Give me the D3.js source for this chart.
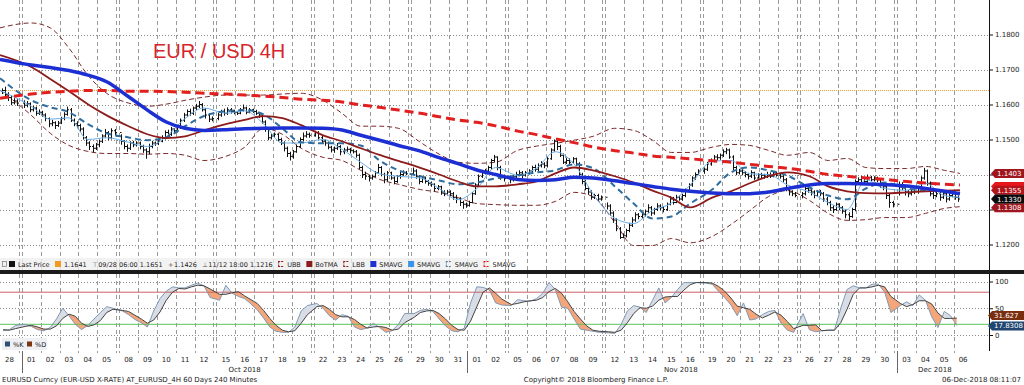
<!DOCTYPE html>
<html>
<head>
<meta charset="utf-8">
<script src="https://cdn.jsdelivr.net/npm/d3@7"></script>
<style>
  body { margin: 0; background: #fff; }
  svg text { font-family: "DejaVu Sans", sans-serif; }
</style>
</head>
<body>
<svg id="chart" width="1024" height="385"></svg>
<script>
(function (d3) {
    "use strict";

    /***** Data *****/

    // trading days on the axis
    const dayDates = [
        "2018-09-28",
        "2018-10-01","2018-10-02","2018-10-03","2018-10-04","2018-10-05",
        "2018-10-08","2018-10-09","2018-10-10","2018-10-11","2018-10-12",
        "2018-10-15","2018-10-16","2018-10-17","2018-10-18","2018-10-19",
        "2018-10-22","2018-10-23","2018-10-24","2018-10-25","2018-10-26",
        "2018-10-29","2018-10-30","2018-10-31","2018-11-01","2018-11-02",
        "2018-11-05","2018-11-06","2018-11-07","2018-11-08","2018-11-09",
        "2018-11-12","2018-11-13","2018-11-14","2018-11-15","2018-11-16",
        "2018-11-19","2018-11-20","2018-11-21","2018-11-22","2018-11-23",
        "2018-11-26","2018-11-27","2018-11-28","2018-11-29","2018-11-30",
        "2018-12-03","2018-12-04","2018-12-05","2018-12-06"
    ];

    // 4H bars, six per day
    const barHigh = [
        1.1646,1.1651,1.1635,1.1626,1.1618,1.1615,
        1.1612,1.1610,1.1606,1.1596,1.1594,1.1586,
        1.1582,1.1575,1.1563,1.1556,1.1552,1.1553,
        1.1565,1.1578,1.1594,1.1590,1.1560,1.1552,
        1.1545,1.1535,1.1510,1.1495,1.1486,1.1490,
        1.1500,1.1515,1.1530,1.1524,1.1532,1.1530,
        1.1515,1.1498,1.1486,1.1495,1.1496,1.1495,
        1.1494,1.1485,1.1475,1.1488,1.1496,1.1494,
        1.1500,1.1512,1.1526,1.1528,1.1536,1.1533,
        1.1542,1.1560,1.1576,1.1586,1.1588,1.1594,
        1.1602,1.1610,1.1604,1.1590,1.1575,1.1566,
        1.1576,1.1585,1.1588,1.1592,1.1590,1.1585,
        1.1582,1.1590,1.1600,1.1594,1.1590,1.1588,
        1.1585,1.1578,1.1574,1.1555,1.1535,1.1516,
        1.1520,1.1518,1.1505,1.1495,1.1480,1.1465,
        1.1470,1.1486,1.1506,1.1520,1.1524,1.1520,
        1.1525,1.1524,1.1510,1.1500,1.1494,1.1482,
        1.1480,1.1490,1.1484,1.1476,1.1480,1.1476,
        1.1472,1.1470,1.1460,1.1425,1.1408,1.1400,
        1.1400,1.1410,1.1430,1.1424,1.1405,1.1410,
        1.1408,1.1395,1.1398,1.1410,1.1412,1.1410,
        1.1420,1.1415,1.1398,1.1396,1.1394,1.1384,
        1.1380,1.1375,1.1370,1.1368,1.1355,1.1356,
        1.1355,1.1350,1.1342,1.1335,1.1325,1.1320,
        1.1325,1.1350,1.1375,1.1400,1.1410,1.1416,
        1.1425,1.1445,1.1456,1.1452,1.1425,1.1400,
        1.1392,1.1400,1.1408,1.1412,1.1410,1.1410,
        1.1415,1.1425,1.1428,1.1432,1.1438,1.1435,
        1.1450,1.1475,1.1500,1.1498,1.1485,1.1460,
        1.1448,1.1446,1.1450,1.1448,1.1435,1.1405,
        1.1385,1.1365,1.1355,1.1345,1.1345,1.1340,
        1.1320,1.1315,1.1295,1.1275,1.1250,1.1232,
        1.1245,1.1262,1.1278,1.1292,1.1290,1.1290,
        1.1300,1.1315,1.1310,1.1305,1.1318,1.1315,
        1.1310,1.1320,1.1338,1.1336,1.1342,1.1340,
        1.1345,1.1360,1.1375,1.1395,1.1406,1.1415,
        1.1420,1.1436,1.1446,1.1456,1.1458,1.1460,
        1.1472,1.1476,1.1474,1.1455,1.1425,1.1416,
        1.1416,1.1410,1.1405,1.1412,1.1408,1.1404,
        1.1405,1.1402,1.1408,1.1406,1.1410,1.1408,
        1.1402,1.1398,1.1390,1.1365,1.1355,1.1350,
        1.1350,1.1372,1.1368,1.1362,1.1355,1.1356,
        1.1356,1.1350,1.1336,1.1325,1.1312,1.1320,
        1.1318,1.1310,1.1300,1.1292,1.1305,1.1386,
        1.1392,1.1396,1.1394,1.1400,1.1396,1.1395,
        1.1394,1.1390,1.1375,1.1370,1.1345,1.1325,
        1.1380,1.1378,1.1370,1.1356,1.1358,1.1360,
        1.1365,1.1395,1.1419,1.1414,1.1380,1.1350,
        1.1352,1.1350,1.1352,1.1348,1.1346,1.1350,
        1.1350,1.1340
    ];
    const barLow = [
        1.1630,1.1622,1.1610,1.1598,1.1600,1.1596,
        1.1590,1.1592,1.1578,1.1580,1.1568,1.1570,
        1.1565,1.1552,1.1535,1.1538,1.1530,1.1536,
        1.1544,1.1555,1.1568,1.1550,1.1538,1.1532,
        1.1522,1.1500,1.1482,1.1470,1.1463,1.1470,
        1.1478,1.1490,1.1505,1.1498,1.1500,1.1512,
        1.1485,1.1472,1.1465,1.1470,1.1478,1.1480,
        1.1472,1.1462,1.1445,1.1458,1.1475,1.1482,
        1.1484,1.1492,1.1500,1.1508,1.1510,1.1518,
        1.1520,1.1530,1.1550,1.1565,1.1568,1.1570,
        1.1584,1.1590,1.1580,1.1560,1.1550,1.1552,
        1.1555,1.1565,1.1568,1.1570,1.1574,1.1572,
        1.1570,1.1572,1.1580,1.1572,1.1575,1.1576,
        1.1570,1.1562,1.1545,1.1522,1.1498,1.1500,
        1.1505,1.1495,1.1484,1.1466,1.1450,1.1440,
        1.1445,1.1462,1.1476,1.1495,1.1505,1.1505,
        1.1508,1.1500,1.1488,1.1482,1.1472,1.1463,
        1.1462,1.1470,1.1455,1.1458,1.1465,1.1460,
        1.1460,1.1448,1.1415,1.1390,1.1385,1.1380,
        1.1385,1.1392,1.1402,1.1395,1.1375,1.1380,
        1.1385,1.1372,1.1376,1.1388,1.1396,1.1398,
        1.1400,1.1388,1.1372,1.1376,1.1374,1.1368,
        1.1365,1.1352,1.1355,1.1342,1.1338,1.1340,
        1.1338,1.1328,1.1318,1.1310,1.1302,1.1305,
        1.1308,1.1318,1.1342,1.1365,1.1390,1.1400,
        1.1405,1.1415,1.1435,1.1412,1.1385,1.1380,
        1.1375,1.1380,1.1390,1.1395,1.1390,1.1394,
        1.1400,1.1405,1.1408,1.1410,1.1420,1.1418,
        1.1420,1.1442,1.1465,1.1470,1.1450,1.1430,
        1.1430,1.1428,1.1432,1.1425,1.1395,1.1372,
        1.1355,1.1342,1.1328,1.1330,1.1322,1.1325,
        1.1300,1.1282,1.1262,1.1238,1.1216,1.1218,
        1.1220,1.1235,1.1250,1.1265,1.1272,1.1275,
        1.1280,1.1290,1.1282,1.1285,1.1296,1.1298,
        1.1292,1.1296,1.1312,1.1314,1.1318,1.1325,
        1.1325,1.1335,1.1350,1.1365,1.1385,1.1398,
        1.1402,1.1410,1.1425,1.1435,1.1440,1.1442,
        1.1450,1.1458,1.1445,1.1412,1.1398,1.1400,
        1.1398,1.1392,1.1386,1.1390,1.1384,1.1388,
        1.1390,1.1388,1.1390,1.1390,1.1392,1.1394,
        1.1388,1.1378,1.1352,1.1340,1.1338,1.1335,
        1.1332,1.1340,1.1348,1.1340,1.1332,1.1336,
        1.1338,1.1322,1.1312,1.1296,1.1290,1.1296,
        1.1298,1.1288,1.1275,1.1268,1.1276,1.1295,
        1.1372,1.1378,1.1372,1.1375,1.1380,1.1380,
        1.1378,1.1362,1.1355,1.1330,1.1305,1.1306,
        1.1340,1.1355,1.1340,1.1335,1.1340,1.1344,
        1.1345,1.1355,1.1385,1.1368,1.1338,1.1330,
        1.1335,1.1325,1.1330,1.1320,1.1325,1.1335,
        1.1328,1.1322
    ];
    const barClose = [
        1.1640,1.1628,1.1620,1.1605,1.1610,1.1604,
        1.1598,1.1602,1.1585,1.1590,1.1575,1.1578,
        1.1570,1.1560,1.1545,1.1548,1.1540,1.1547,
        1.1560,1.1572,1.1585,1.1555,1.1545,1.1540,
        1.1530,1.1505,1.1490,1.1480,1.1475,1.1485,
        1.1495,1.1510,1.1520,1.1505,1.1525,1.1520,
        1.1495,1.1480,1.1475,1.1490,1.1485,1.1490,
        1.1480,1.1470,1.1465,1.1480,1.1490,1.1488,
        1.1495,1.1505,1.1520,1.1515,1.1530,1.1525,
        1.1535,1.1555,1.1570,1.1580,1.1575,1.1590,
        1.1595,1.1600,1.1585,1.1570,1.1558,1.1560,
        1.1570,1.1580,1.1575,1.1585,1.1580,1.1578,
        1.1575,1.1585,1.1590,1.1578,1.1585,1.1580,
        1.1575,1.1570,1.1550,1.1530,1.1505,1.1510,
        1.1515,1.1500,1.1490,1.1475,1.1460,1.1452,
        1.1465,1.1480,1.1500,1.1510,1.1515,1.1512,
        1.1520,1.1505,1.1495,1.1490,1.1478,1.1470,
        1.1475,1.1480,1.1465,1.1470,1.1472,1.1468,
        1.1465,1.1455,1.1420,1.1400,1.1395,1.1390,
        1.1395,1.1405,1.1420,1.1400,1.1385,1.1405,
        1.1390,1.1380,1.1395,1.1400,1.1405,1.1402,
        1.1410,1.1395,1.1380,1.1390,1.1380,1.1375,
        1.1372,1.1360,1.1365,1.1350,1.1345,1.1350,
        1.1345,1.1335,1.1330,1.1320,1.1315,1.1312,
        1.1320,1.1345,1.1370,1.1395,1.1405,1.1410,
        1.1420,1.1440,1.1450,1.1420,1.1395,1.1388,
        1.1385,1.1395,1.1400,1.1405,1.1398,1.1405,
        1.1410,1.1420,1.1415,1.1425,1.1430,1.1425,
        1.1445,1.1470,1.1495,1.1480,1.1455,1.1435,
        1.1440,1.1435,1.1445,1.1430,1.1400,1.1380,
        1.1360,1.1350,1.1335,1.1340,1.1330,1.1335,
        1.1310,1.1290,1.1270,1.1245,1.1220,1.1225,
        1.1240,1.1255,1.1270,1.1285,1.1280,1.1285,
        1.1295,1.1305,1.1290,1.1300,1.1310,1.1305,
        1.1300,1.1315,1.1330,1.1320,1.1335,1.1330,
        1.1340,1.1355,1.1370,1.1390,1.1400,1.1410,
        1.1415,1.1430,1.1440,1.1450,1.1448,1.1455,
        1.1465,1.1470,1.1450,1.1420,1.1405,1.1410,
        1.1405,1.1400,1.1395,1.1405,1.1390,1.1400,
        1.1398,1.1395,1.1400,1.1395,1.1405,1.1398,
        1.1395,1.1385,1.1360,1.1350,1.1345,1.1340,
        1.1345,1.1360,1.1355,1.1350,1.1340,1.1350,
        1.1345,1.1330,1.1320,1.1305,1.1300,1.1315,
        1.1305,1.1295,1.1285,1.1280,1.1300,1.1380,
        1.1385,1.1390,1.1380,1.1392,1.1385,1.1390,
        1.1385,1.1370,1.1365,1.1340,1.1320,1.1315,
        1.1370,1.1365,1.1350,1.1345,1.1350,1.1352,
        1.1360,1.1390,1.1410,1.1375,1.1345,1.1340,
        1.1345,1.1335,1.1345,1.1330,1.1340,1.1345,
        1.1335,1.1330
    ];

    // studies, one reading per day (first = chart start, last = last bar)
    const smaThick = [1.1729,1.1713,1.1706,1.1697,1.1684,1.1665,1.1622,1.1584,1.1550,1.1532,
        1.1526,1.1528,1.1531,1.1532,1.1533,1.1533,1.1532,1.1527,1.1512,1.1498,
        1.1483,1.1467,1.1448,1.1431,1.1413,1.1400,1.1386,1.1383,1.1385,1.1392,
        1.1390,1.1382,1.1374,1.1366,1.1358,1.1352,1.1347,1.1345,1.1345,1.1350,
        1.1360,1.1370,1.1374,1.1374,1.1373,1.1371,1.1367,1.1360,1.1352,1.1345];
    const smaRed = [1.1618,1.1630,1.1635,1.1638,1.1640,1.1640,1.1638,1.1638,1.1637,1.1635,
        1.1632,1.1630,1.1627,1.1624,1.1620,1.1615,1.1612,1.1607,1.1599,1.1592,
        1.1584,1.1575,1.1565,1.1556,1.1549,1.1539,1.1524,1.1514,1.1502,1.1491,
        1.1479,1.1468,1.1461,1.1453,1.1449,1.1445,1.1439,1.1435,1.1429,1.1423,
        1.1418,1.1409,1.1400,1.1395,1.1390,1.1386,1.1380,1.1376,1.1372,1.1370];
    const botma = [1.1741,1.1707,1.1673,1.1638,1.1601,1.1569,1.1538,1.1515,1.1504,1.1509,
        1.1526,1.1544,1.1556,1.1567,1.1561,1.1541,1.1512,1.1495,1.1475,1.1456,
        1.1439,1.1419,1.1400,1.1380,1.1366,1.1366,1.1372,1.1380,1.1403,1.1420,
        1.1412,1.1395,1.1377,1.1354,1.1334,1.1306,1.1334,1.1352,1.1375,1.1395,
        1.1406,1.1395,1.1366,1.1352,1.1347,1.1346,1.1349,1.1352,1.1354,1.1355];
    const ubb = [1.1819,1.1833,1.1819,1.1761,1.1684,1.1632,1.1604,1.1595,1.1601,1.1612,
        1.1621,1.1627,1.1627,1.1627,1.1630,1.1632,1.1612,1.1575,1.1538,1.1538,
        1.1532,1.1492,1.1458,1.1435,1.1432,1.1435,1.1469,1.1481,1.1489,1.1498,
        1.1509,1.1532,1.1526,1.1498,1.1463,1.1463,1.1478,1.1486,1.1483,1.1469,
        1.1455,1.1463,1.1440,1.1446,1.1420,1.1417,1.1417,1.1423,1.1412,1.1403];
    const lbb = [1.1641,1.1569,1.1518,1.1483,1.1466,1.1460,1.1460,1.1458,1.1460,1.1455,
        1.1440,1.1452,1.1478,1.1532,1.1515,1.1475,1.1449,1.1440,1.1412,1.1386,
        1.1372,1.1357,1.1349,1.1334,1.1317,1.1314,1.1312,1.1312,1.1323,1.1349,
        1.1337,1.1263,1.1197,1.1197,1.1217,1.1205,1.1223,1.1257,1.1297,1.1337,
        1.1354,1.1326,1.1289,1.1269,1.1271,1.1277,1.1277,1.1289,1.1303,1.1308];
    const smaDash = [1.1675,1.1612,1.1592,1.1578,1.1544,1.1518,1.1506,1.1498,1.1506,1.1538,
        1.1567,1.1581,1.1584,1.1572,1.1532,1.1492,1.1489,1.1489,1.1483,1.1440,
        1.1412,1.1395,1.1383,1.1372,1.1377,1.1389,1.1397,1.1406,1.1412,1.1429,
        1.1418,1.1366,1.1317,1.1274,1.1280,1.1317,1.1357,1.1406,1.1420,1.1412,
        1.1397,1.1363,1.1340,1.1329,1.1360,1.1377,1.1360,1.1354,1.1352,1.1349];
    const smaFast = [1.1640,1.1595,1.1558,1.1562,1.1500,1.1505,1.1492,1.1480,1.1508,1.1560,
        1.1590,1.1575,1.1582,1.1545,1.1490,1.1490,1.1500,1.1472,1.1435,1.1402,
        1.1395,1.1390,1.1360,1.1328,1.1360,1.1420,1.1398,1.1418,1.1465,1.1430,
        1.1345,1.1275,1.1260,1.1298,1.1318,1.1370,1.1438,1.1440,1.1402,1.1400,
        1.1370,1.1350,1.1320,1.1300,1.1385,1.1360,1.1355,1.1375,1.1340,1.1335];

    // slow stochastic, one reading every two bars
    const stochK = [8,10,18, 20,16,10, 8,14,30, 50,36,20, 10,18,30, 42,53,50, 45,38,29, 23,15,45,
        68,82,90, 88,88,93, 97,92,70, 65,93,78, 72,68,58, 47,32,15, 7,5,5, 15,45,55,
        59,50,36, 28,38,35, 15,10,13, 22,14,5, 8,20,40, 40,46,48, 44,30,17, 8,6,13,
        60,90,89, 84,60,56, 55,66,64, 63,68,78, 98,85,52, 50,30,11, 9,7,5, 4,3,20,
        45,55,52, 42,65,88, 60,70,85, 98,98,98, 97,95,82, 70,56,36, 60,28,30, 38,44,46,
        22,9,5, 40,10,6, 8,9,9, 50,85,92, 88,88,95, 95,80,42, 55,62,55, 75,65,34,
        14,44,36, 17.8308];
    const stochD = [10,9,12, 16,18,15, 11,11,17, 31,39,35, 22,16,19, 27,42,48, 46,44,37, 30,22,28,
        43,65,80, 87,86,90, 93,92,86, 76,76,79, 81,73,66, 59,46,31, 18,9,6, 8,22,38,
        53,55,48, 38,34,34, 29,20,13, 15,16,14, 9,11,23, 33,42,45, 46,40,30, 18,10,9,
        26,53,80, 88,78,67, 57,59,62, 64,65,70, 81,87,78, 62,44,30, 17,9,7, 6,5,9,
        23,40,51, 50,54,65, 71,72,72, 84,94,98, 98,97,91, 82,69,54, 51,48,39, 32,37,43,
        37,25,12, 18,18,19, 8,9,9, 23,48,76, 88,88,90, 93,90,72, 59,53,57, 64,64,58,
        41,31,31, 31.627];

    // axis ticks and header values
    const priceGrid = [1.12, 1.13, 1.14, 1.15, 1.16, 1.17, 1.18, 1.19];
    const priceTicks = [1.12, 1.13, 1.14, 1.15, 1.16, 1.17, 1.18];
    const stochTicks = [0, 50, 100];
    const refLevel = 1.1641;
    const avgText = "1.1426";
    const overbought = 80, oversold = 20;

    /***** Layout *****/
    const plotRight = 989;
    const up = { top: 0, bottom: 258 };
    const lo = { top: 274, bottom: 351 };

    const svg = d3.select("#chart");
    const parse = d3.timeParse("%Y-%m-%d");
    const dates = dayDates.map(parse);

    // position units: 6 per day, 1 extra unit for each weekend
    let gaps = 0;
    const dayStart = dates.map((d, i) => {
        if (i > 0 && d3.timeDay.count(dates[i - 1], d) > 1) gaps++;
        return i * 6 + gaps;
    });
    const fridays = dates.map((d, i) => i < dates.length - 1 && d3.timeDay.count(d, dates[i + 1]) > 1);
    const lastUnit = dayStart[dates.length - 1] + (barClose.length - (dates.length - 1) * 6);

    const x = d3.scaleLinear().domain([0, 310]).range([0, 972.5]);
    const yP = d3.scaleLinear().domain([1.12, 1.18]).range([244.5, 34.5]);
    const yS = d3.scaleLinear().domain([0, 100]).range([335, 281.5]);

    const studyUnit = i => i === 0 ? 0 : (i === dates.length - 1 ? lastUnit : dayStart[i] + 3);

    const defs = svg.append("defs");
    defs.append("clipPath").attr("id", "clipUp").append("rect")
        .attr("x", 0).attr("y", up.top).attr("width", plotRight).attr("height", up.bottom - up.top);
    defs.append("clipPath").attr("id", "clipLo").append("rect")
        .attr("x", 0).attr("y", lo.top).attr("width", plotRight).attr("height", lo.bottom - lo.top);

    /***** Grid *****/
    const grid = svg.append("g");
    const vLines = [];
    dayStart.forEach((u, i) => {
        if (i > 0) vLines.push(u);
        if (fridays[i]) vLines.push(u + 6);
    });
    [[up.top, up.bottom + 12], [lo.top, lo.bottom + 2]].forEach(([a, b]) => {
        grid.selectAll(null).data(vLines).enter().append("line")
            .attr("x1", u => Math.round(x(u)) + 0.5).attr("x2", u => Math.round(x(u)) + 0.5)
            .attr("y1", a).attr("y2", b)
            .attr("stroke", "#9a9a9a").attr("stroke-width", 1).attr("stroke-dasharray", "4,3");
    });
    grid.selectAll(null).data(priceGrid).enter().append("line")
        .attr("x1", 0).attr("x2", plotRight)
        .attr("y1", v => Math.round(yP(v)) + 0.5).attr("y2", v => Math.round(yP(v)) + 0.5)
        .attr("stroke", "#8a8a8a").attr("stroke-dasharray", "1,2");
    grid.selectAll(null).data(stochTicks).enter().append("line")
        .attr("x1", 0).attr("x2", plotRight)
        .attr("y1", v => Math.round(yS(v)) + 0.5).attr("y2", v => Math.round(yS(v)) + 0.5)
        .attr("stroke", "#8a8a8a").attr("stroke-dasharray", "1,2");

    // reference level
    svg.append("line")
        .attr("x1", 0).attr("x2", plotRight)
        .attr("y1", Math.round(yP(refLevel)) + 0.5).attr("y2", Math.round(yP(refLevel)) + 0.5)
        .attr("stroke", "#f0a030").attr("stroke-dasharray", "1,1");

    /***** Upper panel: bars and studies *****/
    const gUp = svg.append("g").attr("clip-path", "url(#clipUp)");
    const studyLine = d3.line()
        .x((v, i) => x(studyUnit(i)))
        .y(v => yP(v))
        .curve(d3.curveMonotoneX);

    gUp.append("path").attr("d", studyLine(ubb)).attr("fill", "none")
        .attr("stroke", "#7b2a2a").attr("stroke-width", 1).attr("stroke-dasharray", "5,3");
    gUp.append("path").attr("d", studyLine(lbb)).attr("fill", "none")
        .attr("stroke", "#7b2a2a").attr("stroke-width", 1).attr("stroke-dasharray", "5,3");

    const barPath = barClose.map((c, i) => {
        const d = Math.floor(i / 6);
        const u = dayStart[d] + (i % 6) + 0.5;
        const px = Math.round(x(u)) + 0.5;
        let p = "M" + px + "," + yP(barHigh[i]) + "V" + yP(barLow[i]);
        if (i > 0) p += "M" + (px - 1.5) + "," + yP(barClose[i - 1]) + "H" + px;
        p += "M" + px + "," + yP(c) + "H" + (px + 1.5);
        return p;
    }).join("");
    gUp.append("path").attr("d", barPath).attr("fill", "none")
        .attr("stroke", "#111").attr("stroke-width", 1);

    gUp.append("path").attr("d", studyLine(smaFast)).attr("fill", "none")
        .attr("stroke", "#6aaee8").attr("stroke-width", 1);
    gUp.append("path").attr("d", studyLine(smaDash)).attr("fill", "none")
        .attr("stroke", "#2f6d9e").attr("stroke-width", 2).attr("stroke-dasharray", "6,4");
    gUp.append("path").attr("d", studyLine(botma)).attr("fill", "none")
        .attr("stroke", "#8e1b1b").attr("stroke-width", 1.8);
    gUp.append("path").attr("d", studyLine(smaRed)).attr("fill", "none")
        .attr("stroke", "#e21f1f").attr("stroke-width", 3).attr("stroke-dasharray", "9,5");
    gUp.append("path").attr("d", studyLine(smaThick)).attr("fill", "none")
        .attr("stroke", "#1c2fd3").attr("stroke-width", 3.5);

    // title
    svg.append("text").attr("x", 153).attr("y", 58)
        .style("font-family", "'Liberation Sans', Arial, sans-serif")
        .attr("font-size", 20).attr("fill", "#d8232a")
        .text("EUR / USD 4H");

    /***** Lower panel: stochastic *****/
    const stoch = stochK.map((k, j) => {
        const d = Math.floor(j / 3);
        return { u: dayStart[d] + 2 * (j % 3) + 1, k: k, d: stochD[j] };
    });
    const gLo = svg.append("g").attr("clip-path", "url(#clipLo)");

    defs.append("clipPath").attr("id", "aboveD").append("path")
        .attr("d", d3.area().x(p => x(p.u)).y0(lo.top).y1(p => yS(p.d))(stoch));
    defs.append("clipPath").attr("id", "belowD").append("path")
        .attr("d", d3.area().x(p => x(p.u)).y0(p => yS(p.d)).y1(lo.bottom)(stoch));

    const between = d3.area().x(p => x(p.u)).y0(p => yS(p.k)).y1(p => yS(p.d));
    gLo.append("path").attr("d", between(stoch)).attr("fill", "#d9dee6")
        .attr("clip-path", "url(#aboveD)");
    gLo.append("path").attr("d", between(stoch)).attr("fill", "#f5a57a")
        .attr("clip-path", "url(#belowD)");

    gLo.append("line").attr("x1", 0).attr("x2", plotRight)
        .attr("y1", yS(overbought)).attr("y2", yS(overbought))
        .attr("stroke", "#c86060").attr("stroke-width", 1);
    gLo.append("line").attr("x1", 0).attr("x2", plotRight)
        .attr("y1", yS(oversold)).attr("y2", yS(oversold))
        .attr("stroke", "#5cc35c").attr("stroke-width", 1);

    gLo.append("path").attr("d", d3.line().x(p => x(p.u)).y(p => yS(p.k))(stoch))
        .attr("fill", "none").attr("stroke", "#8199b6").attr("stroke-width", 1);
    gLo.append("path").attr("d", d3.line().x(p => x(p.u)).y(p => yS(p.d))(stoch))
        .attr("fill", "none").attr("stroke", "#444").attr("stroke-width", 1);

    // stochastic legend
    const sl = svg.append("g");
    sl.append("rect").attr("x", 2).attr("y", 338).attr("width", 45).attr("height", 12).attr("fill", "#eef0f3");
    [["%K", "#2d5077", 5], ["%D", "#7a3411", 27]].forEach(([t, c, lx]) => {
        sl.append("rect").attr("x", lx).attr("y", 341.5).attr("width", 5).attr("height", 5).attr("fill", c);
        sl.append("text").attr("x", lx + 8).attr("y", 346.5).attr("font-size", 6.5).attr("fill", "#222").text(t);
    });

    /***** Legend row *****/
    svg.append("rect").attr("x", 0).attr("y", up.bottom).attr("width", 490).attr("height", 12)
        .attr("fill", "#efefef").attr("opacity", 0.8);
    const lg = svg.append("g").attr("font-size", 6.5).attr("fill", "#222");
    const items = [
        { icon: "box" , color: "#111", text: "Last Price" },
        { icon: "sq", color: "#f09a20", text: d3.format(".4f")(refLevel) },
        { icon: "glyph", glyph: "\u22A4", text: "09/28 06:00 " + d3.format(".4f")(d3.max(barHigh)) },
        { icon: "glyph", glyph: "+", text: avgText },
        { icon: "glyph", glyph: "\u22A5", text: "11/12 18:00 " + d3.format(".4f")(d3.min(barLow)) },
        { icon: "dash", color: "#8e1b1b", text: "UBB" },
        { icon: "sq", color: "#8e1b1b", text: "BoTMA" },
        { icon: "dash", color: "#8e1b1b", text: "LBB" },
        { icon: "sq", color: "#1c2fd3", text: "SMAVG" },
        { icon: "sq", color: "#3b93e6", text: "SMAVG" },
        { icon: "dash", color: "#5a7fa0", text: "SMAVG" },
        { icon: "dash", color: "#e21f1f", text: "SMAVG" }
    ];
    let lx = 2;
    const ly = 266.5;
    items.forEach(it => {
        if (it.icon === "box") {
            lg.append("rect").attr("x", lx + 0.5).attr("y", 261.5).attr("width", 4).attr("height", 5)
                .attr("fill", "none").attr("stroke", "#777").attr("stroke-width", 0.7);
            lx += 7;
        }
        if (it.icon === "sq" || it.icon === "box") {
            lg.append("rect").attr("x", lx).attr("y", 261).attr("width", 6).attr("height", 6).attr("fill", it.color);
            lx += 9;
        } else if (it.icon === "glyph") {
            lg.append("text").attr("x", lx).attr("y", ly).attr("fill", "#555").text(it.glyph);
            lx += 6;
        } else if (it.icon === "dash") {
            lg.append("path").attr("d", `M${lx},261.5H${lx + 6}M${lx},266.5H${lx + 6}M${lx + 0.5},261.5V266.5`)
                .attr("fill", "none").attr("stroke", it.color).attr("stroke-width", 1)
                .attr("stroke-dasharray", "2,1");
            lx += 9;
        }
        const t = lg.append("text").attr("x", lx).attr("y", ly).text(it.text);
        lx += t.node().getComputedTextLength() + 5.5;
    });

    // panel separator
    svg.append("rect").attr("x", 0).attr("y", 270).attr("width", 1024).attr("height", 4).attr("fill", "#1b1b1b");

    /***** Right axes *****/
    const axUp = svg.append("g").attr("transform", `translate(${plotRight},0)`);
    axUp.append("line").attr("x1", 0.5).attr("x2", 0.5).attr("y1", 0).attr("y2", up.bottom + 12).attr("stroke", "#111");
    axUp.call(d3.axisRight(yP).tickValues(d3.range(1.115, 1.195, 0.005)).tickSize(2).tickFormat(""));
    axUp.call(d3.axisRight(yP).tickValues(priceTicks).tickSize(4).tickPadding(2).tickFormat(d3.format(".4f")));
    axUp.selectAll(".domain").remove();
    axUp.selectAll("text").attr("font-size", 7).attr("font-family", "DejaVu Sans").attr("fill", "#222");
    axUp.selectAll(".tick line").attr("stroke", "#111");

    const axLo = svg.append("g").attr("transform", `translate(${plotRight},0)`);
    axLo.append("line").attr("x1", 0.5).attr("x2", 0.5).attr("y1", lo.top).attr("y2", lo.bottom).attr("stroke", "#111");
    axLo.call(d3.axisRight(yS).tickValues([-25, 25, 75]).tickSize(2).tickFormat(""));
    axLo.call(d3.axisRight(yS).tickValues(stochTicks).tickSize(4).tickPadding(2).tickFormat(d3.format("d")));
    axLo.selectAll(".domain").remove();
    axLo.selectAll("text").attr("font-size", 7).attr("font-family", "DejaVu Sans").attr("fill", "#222");
    axLo.selectAll(".tick line").attr("stroke", "#111");

    /***** Last value tags *****/
    const tag = (g, yc, text, color, x0) => {
        g.append("path")
            .attr("d", `M${x0},${yc}L${x0 + 4},${yc - 4.5}H1024V${yc + 4.5}H${x0 + 4}Z`)
            .attr("fill", color);
        if (text) {
            g.append("text").attr("x", x0 + 6).attr("y", yc + 2.5)
                .attr("font-size", 7).attr("fill", "#fff").text(text);
        }
    };
    const tags = svg.append("g");
    const f4 = d3.format(".4f");
    const last = a => a[a.length - 1];
    // the SMAVG tag sits under the BoTMA tag, only its edge shows
    tag(tags, yP(last(smaRed)) + 1.5, null, "#e8161d", 991);
    tag(tags, yP(last(ubb)), f4(last(ubb)), "#a0161e", 991);
    tag(tags, yP(last(botma)), f4(last(botma)), "#b3151d", 991);
    tag(tags, yP(last(lbb)) + 1, f4(last(lbb)), "#a0161e", 991);
    tag(tags, yP(last(barClose)), f4(last(barClose)), "#0a0a0a", 991);
    tag(tags, yS(last(stochD)) - 2.5, String(last(stochD)), "#7a2e10", 988);
    tag(tags, yS(last(stochK)) + 0.5, String(last(stochK)), "#1f4570", 988);

    /***** Bottom axis *****/
    const ax = svg.append("g").attr("font-size", 7).attr("fill", "#222");
    const fmtDay = d3.timeFormat("%d");
    ax.selectAll(null).data(dates).enter().append("text")
        .attr("x", (d, i) => x(dayStart[i] + 3)).attr("y", 361.5)
        .attr("text-anchor", "middle").text(d => fmtDay(d));

    const months = d3.groups(dates.map((d, i) => ({ d, i })), o => d3.timeFormat("%b %Y")(o.d));
    months.forEach(([label, arr], mi) => {
        const first = arr[0].i, lastDay = arr[arr.length - 1].i;
        if (mi > 0) {
            const mx = Math.round(x(dayStart[first])) + 0.5;
            ax.append("line").attr("x1", mx).attr("x2", mx).attr("y1", lo.bottom).attr("y2", 373)
                .attr("stroke", "#666");
        }
        if (arr.length >= 3) {
            ax.append("text").attr("x", (x(dayStart[first]) + x(dayStart[lastDay] + 6)) / 2).attr("y", 371.5)
                .attr("text-anchor", "middle").text(label);
        }
    });

    /***** Footer *****/
    const foot = svg.append("g").attr("font-size", 7).attr("fill", "#222");
    foot.append("text").attr("x", 2).attr("y", 382).text("EURUSD Curncy (EUR-USD X-RATE) AT_EURUSD_4H 60 Days 240 Minutes");
    foot.append("text").attr("x", 596).attr("y", 382).attr("text-anchor", "middle").text("Copyright\u00A9 2018 Bloomberg Finance L.P.");
    foot.append("text").attr("x", 1021).attr("y", 382).attr("text-anchor", "end").text("06-Dec-2018 08:11:07");

})(d3);
</script>
</body>
</html>
